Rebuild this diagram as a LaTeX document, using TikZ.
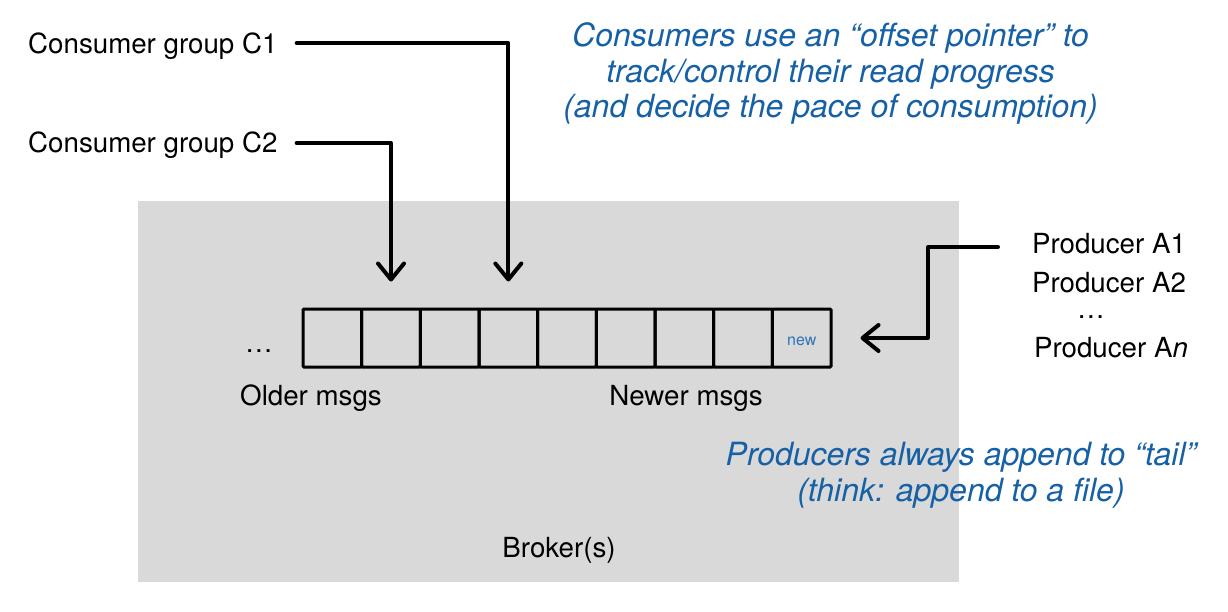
\documentclass[tikz,border=0pt]{standalone}
\usepackage{fontspec}
\setmainfont{TeX Gyre Heros}
\usetikzlibrary{arrows.meta,calc}
\definecolor{boxgray}{HTML}{D9D9D9}
\definecolor{noteblue}{RGB}{22,96,166}
\definecolor{newblue}{RGB}{45,115,185}
\tikzset{
  lbl/.style={inner sep=0pt, anchor=base, font=\fontsize{27.7}{33}\selectfont, text=black},
  note/.style={inner sep=0pt, anchor=base, font=\fontsize{32}{36}\selectfont\itshape, text=noteblue},
  cellbox/.style={draw=black, line width=3pt, minimum width=58.67pt, minimum height=58pt, inner sep=0pt, rounded corners=1pt},
  arr/.style={line width=4pt, line cap=round, line join=round, -{Straight Barb[length=16pt,width=26pt,round]}}
}
\begin{document}
\begin{tikzpicture}[x=1pt,y=-1pt]
\useasboundingbox (0,0) rectangle (1228,611);
% broker box
\fill[boxgray] (138,201) rectangle (959,582);
% cells
\foreach \i in {1,...,9} {
  \node[cellbox] (cell\i) at ({303+58.67*(\i-0.5)},338) {};
}
\node[inner sep=0pt, anchor=base, text=newblue, font=\fontsize{16}{18}\selectfont] (newlbl) at ([yshift=-7pt]cell9.center) {new};
% labels
\node[lbl] (dotsl) at (259,352) {…};
\node[lbl] (older) at (311,405) {Older msgs};
\node[lbl] (newer) at (686,405) {Newer msgs};
\node[lbl] (broker) at (559,557) {Broker(s)};
\node[lbl, anchor=base west] (c1) at (28,53) {Consumer group C1};
\node[lbl, anchor=base west] (c2) at (28,152) {Consumer group C2};
\node[lbl] (p1) at (1109,253) {Producer A1};
\node[lbl] (p2) at (1109,292) {Producer A2};
\node[lbl] (pdots) at (1091,318) {…};
\node[lbl] (pn) at (1111,357) {Producer A\textit{n}};
% notes
\node[note] (cn1) at (830.5,46) {Consumers use an “offset pointer” to};
\node[note] (cn2) at (830.5,82) {track/control their read progress};
\node[note] (cn3) at (830.5,117) {(and decide the pace of consumption)};
\node[note] (pn1) at (961,465) {Producers always append to “tail”};
\node[note] (pn2) at (961,501) {(think: append to a file)};
% connectors
\coordinate (c1s) at ([shift={(19pt,10pt)}]c1.base east);
\coordinate (c2s) at ([shift={(19pt,9pt)}]c2.base east);
\draw[arr] (c1s) -| ([yshift=26pt]cell4.north);
\draw[arr] (c2s) -| ([yshift=26pt]cell2.north);
\coordinate (ps) at (998,247);
\coordinate (pc) at (928,247);
\draw[arr] (ps) -- (pc) |- ([xshift=28pt]cell9.east);
\end{tikzpicture}
\end{document}
